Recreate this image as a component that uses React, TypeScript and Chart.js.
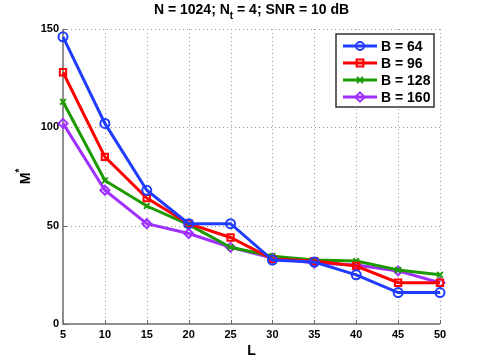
import React, { useEffect, useRef } from "react";
import { Chart, registerables } from "chart.js";

Chart.register(...registerables);

const L_VALUES = [5, 10, 15, 20, 25, 30, 35, 40, 45, 50];
const B64 = [146, 102, 68, 51, 51, 32.5, 31.5, 25, 16, 16];
const B96 = [128, 85, 64, 51, 44, 33, 32, 29.5, 21, 21];
const B128 = [113, 73, 60, 50.5, 39, 34.5, 32.5, 32, 27.5, 25];
const B160 = [102, 68, 51, 46, 39, 33.5, 31, 30, 27, 21];
const SERIES_LABELS = ["B = 64", "B = 96", "B = 128", "B = 160"];
const SERIES_COLORS = ["#1f3cff", "#ff0000", "#1c9a00", "#a030ff"];
const SERIES_MARKERS = ["circle", "rect", "crossRot", "rectRot"];
const Y_TICKS = [0, 50, 100, 150];
const X_TICKS = L_VALUES;
const TITLE_PARTS = ["N = 1024; N", "t", " = 4; SNR = 10 dB"];
const X_LABEL = "L";
const Y_LABEL = ["M", "*"];

const FONT = "'Liberation Sans', Arial, Helvetica, sans-serif";

function drawMarker(ctx: CanvasRenderingContext2D, style: string, x: number, y: number, r: number) {
  ctx.beginPath();
  if (style === "circle") {
    ctx.arc(x, y, r, 0, Math.PI * 2);
  } else if (style === "rect") {
    ctx.rect(x - r * 0.85, y - r * 0.85, r * 1.7, r * 1.7);
  } else if (style === "rectRot") {
    ctx.moveTo(x, y - r * 1.15);
    ctx.lineTo(x + r * 1.15, y);
    ctx.lineTo(x, y + r * 1.15);
    ctx.lineTo(x - r * 1.15, y);
    ctx.closePath();
  } else {
    const d = r * 0.75;
    ctx.moveTo(x - d, y - d);
    ctx.lineTo(x + d, y + d);
    ctx.moveTo(x + d, y - d);
    ctx.lineTo(x - d, y + d);
  }
  ctx.stroke();
}

const decorPlugin = {
  id: "matlabDecor",
  beforeDatasetsDraw(chart: any) {
    const { ctx, chartArea } = chart;
    const xs = chart.scales.x;
    const ys = chart.scales.y;
    ctx.save();
    ctx.strokeStyle = "#9a9a9a";
    ctx.lineWidth = 1;
    ctx.setLineDash([1, 3]);
    X_TICKS.forEach((v) => {
      const px = Math.round(xs.getPixelForValue(v)) + 0.5;
      if (v === X_TICKS[0]) return;
      ctx.beginPath();
      ctx.moveTo(px, chartArea.top);
      ctx.lineTo(px, chartArea.bottom);
      ctx.stroke();
    });
    Y_TICKS.forEach((v) => {
      if (v === Y_TICKS[0]) return;
      const py = Math.round(ys.getPixelForValue(v)) + 0.5;
      ctx.beginPath();
      ctx.moveTo(chartArea.left, py);
      ctx.lineTo(chartArea.right, py);
      ctx.stroke();
    });
    ctx.setLineDash([]);
    ctx.strokeStyle = "#6a6a6a";
    ctx.lineWidth = 1.5;
    ctx.beginPath();
    ctx.moveTo(chartArea.left, chartArea.top);
    ctx.lineTo(chartArea.left, chartArea.bottom);
    ctx.lineTo(chartArea.right, chartArea.bottom);
    ctx.stroke();
    ctx.lineWidth = 1;
    X_TICKS.forEach((v) => {
      const px = Math.round(xs.getPixelForValue(v)) + 0.5;
      ctx.beginPath();
      ctx.moveTo(px, chartArea.bottom);
      ctx.lineTo(px, chartArea.bottom - 4);
      ctx.stroke();
    });
    Y_TICKS.forEach((v) => {
      const py = Math.round(ys.getPixelForValue(v)) + 0.5;
      ctx.beginPath();
      ctx.moveTo(chartArea.left, py);
      ctx.lineTo(chartArea.left + 4, py);
      ctx.stroke();
    });
    ctx.restore();
  },
  afterDraw(chart: any) {
    const { ctx, chartArea } = chart;
    ctx.save();
    ctx.fillStyle = "#000";
    const big = `bold 14px ${FONT}`;
    const small = `bold 10px ${FONT}`;
    ctx.font = big;
    const w0 = ctx.measureText(TITLE_PARTS[0]).width;
    const w2 = ctx.measureText(TITLE_PARTS[2]).width;
    ctx.font = small;
    const w1 = ctx.measureText(TITLE_PARTS[1]).width;
    const total = w0 + w1 + w2;
    const cx = (chartArea.left + chartArea.right) / 2;
    let tx = cx - total / 2;
    const tb = 14;
    ctx.textBaseline = "alphabetic";
    ctx.textAlign = "left";
    ctx.font = big;
    ctx.fillText(TITLE_PARTS[0], tx, tb);
    tx += w0;
    ctx.font = small;
    ctx.fillText(TITLE_PARTS[1], tx, tb + 5);
    tx += w1;
    ctx.font = big;
    ctx.fillText(TITLE_PARTS[2], tx, tb);

    ctx.font = big;
    ctx.textAlign = "center";
    ctx.fillText(X_LABEL, cx, 355);

    const cy = (chartArea.top + chartArea.bottom) / 2;
    ctx.translate(30, cy);
    ctx.rotate(-Math.PI / 2);
    ctx.font = big;
    const mw = ctx.measureText(Y_LABEL[0]).width;
    ctx.font = small;
    const sw = ctx.measureText(Y_LABEL[1]).width;
    const sx = -(mw + sw) / 2;
    ctx.textAlign = "left";
    ctx.font = big;
    ctx.fillText(Y_LABEL[0], sx, 0);
    ctx.font = small;
    ctx.fillText(Y_LABEL[1], sx + mw, -7);
    ctx.setTransform(1, 0, 0, 1, 0, 0);

    const bx = 336, by = 34, bw = 98, bh = 73;
    ctx.fillStyle = "#fff";
    ctx.fillRect(bx, by, bw, bh);
    ctx.strokeStyle = "#333";
    ctx.lineWidth = 1.5;
    ctx.strokeRect(bx, by, bw, bh);
    chart.data.datasets.forEach((ds: any, i: number) => {
      const y = by + 12 + i * 17;
      ctx.strokeStyle = ds.borderColor;
      ctx.lineWidth = 3;
      ctx.beginPath();
      ctx.moveTo(343, y);
      ctx.lineTo(377, y);
      ctx.stroke();
      ctx.lineWidth = 2;
      drawMarker(ctx, SERIES_MARKERS[i], 360, y, 4);
      ctx.fillStyle = "#000";
      ctx.font = `bold 14px ${FONT}`;
      ctx.textAlign = "left";
      ctx.textBaseline = "middle";
      ctx.fillText(ds.label, 381, y + 1);
    });
    ctx.restore();
  },
};

export default function App() {
  const ref = useRef<HTMLCanvasElement | null>(null);
  useEffect(() => {
    document.body.style.margin = "0";
    const series = [B64, B96, B128, B160];
    const chart = new Chart(ref.current as HTMLCanvasElement, {
      type: "line",
      data: {
        datasets: series.map((vals, i) => ({
          label: SERIES_LABELS[i],
          data: L_VALUES.map((l, j) => ({ x: l, y: vals[j] })),
          borderColor: SERIES_COLORS[i],
          backgroundColor: SERIES_COLORS[i],
          borderWidth: 3,
          clip: false,
          pointStyle: SERIES_MARKERS[i] as any,
          pointRadius: SERIES_MARKERS[i] === "crossRot" ? 4 : 4.5,
          pointBorderWidth: 2,
          pointBackgroundColor: "rgba(255,255,255,0)",
          pointBorderColor: SERIES_COLORS[i],
          tension: 0,
        })),
      },
      plugins: [decorPlugin],
      options: {
        animation: false,
        responsive: false,
        devicePixelRatio: 1,
        layout: { padding: { top: 29, right: 45, left: 0, bottom: 0 } },
        plugins: { legend: { display: false }, title: { display: false }, tooltip: { enabled: false } },
        scales: {
          x: {
            type: "linear",
            min: 5,
            max: 50,
            afterBuildTicks: (s: any) => {
              s.ticks = X_TICKS.map((v) => ({ value: v }));
            },
            ticks: { font: { family: FONT, weight: "bold", size: 11 }, color: "#000", padding: 4, maxRotation: 0 },
            grid: { display: false, drawTicks: false },
            border: { display: false },
            afterFit: (s: any) => {
              s.height = 40;
            },
          },
          y: {
            type: "linear",
            min: 0,
            max: 150,
            afterBuildTicks: (s: any) => {
              s.ticks = Y_TICKS.map((v) => ({ value: v }));
            },
            ticks: { font: { family: FONT, weight: "bold", size: 11 }, color: "#000", padding: 4 },
            grid: { display: false, drawTicks: false },
            border: { display: false },
            afterFit: (s: any) => {
              s.width = 63;
            },
          },
        },
      },
    });
    return () => chart.destroy();
  }, []);
  return (
    <div style={{ width: 485, height: 364 }}>
      <canvas ref={ref} width={485} height={364} style={{ display: "block" }} />
    </div>
  );
}
